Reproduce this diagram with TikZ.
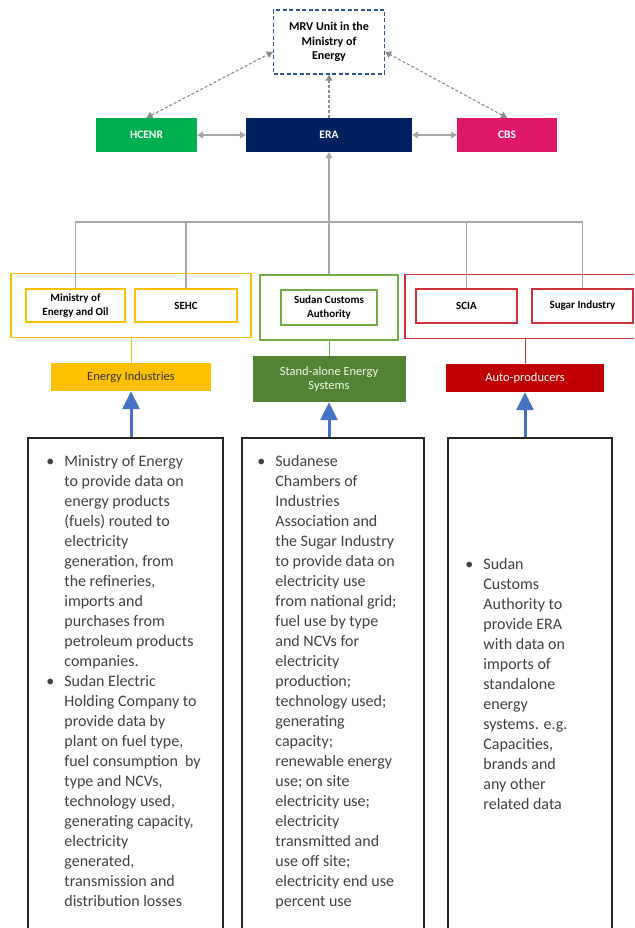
\documentclass[tikz,border=0pt]{standalone}
\usepackage{fontspec}
\setmainfont{Carlito}
\usetikzlibrary{arrows.meta,positioning}
\definecolor{mrvblue}{HTML}{2F5597}
\definecolor{hcenrgreen}{HTML}{00B050}
\definecolor{eranavy}{HTML}{002060}
\definecolor{cbspink}{HTML}{E0186A}
\definecolor{linkgray}{HTML}{A6A6A6}
\definecolor{reportgray}{HTML}{8C8C8C}
\definecolor{eiyellow}{HTML}{FFC000}
\definecolor{sagreen}{HTML}{548235}
\definecolor{saborder}{HTML}{70AD47}
\definecolor{apred}{HTML}{C00000}
\definecolor{apborder}{HTML}{D03038}
\definecolor{feedblue}{HTML}{4472C4}
\newcommand{\blt}{\llap{\textbullet\hspace{10pt}}}
\begin{document}
\begin{tikzpicture}
[x=1pt,y=-1pt,inner sep=0pt,
unit/.style={draw=mrvblue,dashed,dash pattern=on 4pt off 2.5pt,line width=1.4pt,fill=white,minimum width=111pt,minimum height=64pt,align=center,font=\fontsize{12}{14.5}\selectfont\bfseries},
agency/.style={minimum height=34pt,text=white,font=\fontsize{11.5}{13}\selectfont\bfseries},
group/.style={draw,line width=1.3pt,minimum height=64pt},
member/.style={draw,line width=1.1pt,fill=white,minimum height=34pt,align=center,font=\fontsize{11}{13.5}\selectfont\bfseries},
sector/.style={minimum height=28pt,align=center,font=\fontsize{12.5}{13.5}\selectfont},
facts/.style={draw=black!85,line width=1.6pt,minimum height=530pt},
bullets/.style={anchor=north west,align=left,text=black!75,font=\fontsize{16}{20}\selectfont},
report/.style={draw=reportgray,dashed,dash pattern=on 3pt off 2pt,line width=1.1pt,>={Triangle[width=7pt,length=6pt]}},
link/.style={draw=linkgray,line width=1.2pt,>={Triangle[width=7pt,length=6pt]}},
feed/.style={draw=feedblue,line width=3pt,-{Triangle[width=17pt,length=18pt]}}]
\clip (0,0) rectangle (634,928);

\node[unit] (mrv) at (329,42) {MRV Unit in the\\Ministry of\\Energy};
\node[agency,fill=hcenrgreen,minimum width=101pt] (hcenr) at (146.5,135) {HCENR};
\node[agency,fill=eranavy,minimum width=166pt] (era) at (329,135) {ERA};
\node[agency,fill=cbspink,minimum width=100pt] (cbs) at (507,135) {CBS};

\draw[report,<->] (hcenr.north) -- (mrv.190);
\draw[report,<->] (cbs.north) -- (mrv.350);
\draw[report,->] (era.north) -- (mrv.south);
\draw[link,<->] (hcenr.east) -- (era.west);
\draw[link,<->] (era.east) -- (cbs.west);

\node[group,draw=eiyellow,minimum width=240pt] (eigroup) at (131,305.5) {};
\node[group,draw=saborder,minimum width=138pt,minimum height=65pt] (sagroup) at (329,307.5) {};
\node[group,draw=apborder,minimum width=240pt] (apgroup) at (525,306.5) {};

\node[member,draw=eiyellow,minimum width=99pt,minimum height=33pt] (moe) at (75.5,305.5) {Ministry of\\Energy and Oil};
\node[member,draw=eiyellow,minimum width=102pt,minimum height=33pt] (sehc) at (186,305.5) {SEHC};
\node[member,draw=saborder,minimum width=96pt,minimum height=35pt] (customs) at (329,307.5) {Sudan Customs\\Authority};
\node[member,draw=apborder,minimum width=101pt] (scia) at (466.5,306) {SCIA};
\node[member,draw=apborder,minimum width=101pt] (sugar) at (582.5,306) {Sugar Industry};

\coordinate (hub) at (329,222);
\draw[link,->] (hub) -- (era.south);
\draw[link] (moe.north) |- (hub);
\draw[link] (sehc.north) |- (hub);
\draw[link] (sagroup.north) -- (hub);
\draw[link] (scia.north) |- (hub);
\draw[link] (sugar.north) |- (hub);

\node[sector,fill=eiyellow,text=black!80,minimum width=160pt] (energyind) at (131,377) {Energy Industries};
\node[sector,fill=sagreen,text=white!92!green,minimum width=153pt,minimum height=46pt] (standalone) at (329,379) {Stand-alone Energy\\Systems};
\node[sector,fill=apred,text=white,minimum width=158pt] (autoprod) at (525,378) {Auto-producers};

\draw[eiyellow,line width=1pt] (eigroup.south) -- (energyind.north);
\draw[saborder,line width=1pt] (sagroup.south) -- (standalone.north);
\draw[apborder,line width=1pt] (apgroup.south) -- (autoprod.north);

\node[facts,minimum width=195pt] (eifacts) at (125.5,703) {};
\node[facts,minimum width=182pt] (safacts) at (333,703) {};
\node[facts,minimum width=164pt] (apfacts) at (530,703) {};

\draw[feed] (eifacts.north -| energyind.south) -- (energyind.south);
\draw[feed] (safacts.north -| standalone.south) -- (standalone.south);
\draw[feed] (apfacts.north -| autoprod.south) -- (autoprod.south);

\node[bullets] (eitext) at ([xshift=37pt,yshift=-18pt]eifacts.north west)
{\blt Ministry of Energy\\ to provide data on\\ energy products\\ (fuels) routed to\\ electricity\\ generation, from\\ the refineries,\\ imports and\\ purchases from\\ petroleum products\\ companies.\\
\blt Sudan Electric\\ Holding Company to\\ provide data by\\ plant on fuel type,\\ fuel consumption\ \ by\\ type and NCVs,\\ technology used,\\ generating capacity,\\ electricity\\ generated,\\ transmission and\\ distribution losses};
\node[bullets] (satext) at ([xshift=34pt,yshift=-18pt]safacts.north west)
{\blt Sudanese\\ Chambers of\\ Industries\\ Association and\\ the Sugar Industry\\ to provide data on\\ electricity use\\ from national grid;\\ fuel use by type\\ and NCVs for\\ electricity\\ production;\\ technology used;\\ generating\\ capacity;\\ renewable energy\\ use; on site\\ electricity use;\\ electricity\\ transmitted and\\ use off site;\\ electricity end use\\ percent use};
\node[bullets] (aptext) at ([xshift=36pt,yshift=-121pt]apfacts.north west)
{\blt Sudan\\ Customs\\ Authority to\\ provide ERA\\ with data on\\ imports of\\ standalone\\ energy\\ systems. e.g.\\ Capacities,\\ brands and\\ any other\\ related data};
\end{tikzpicture}
\end{document}
